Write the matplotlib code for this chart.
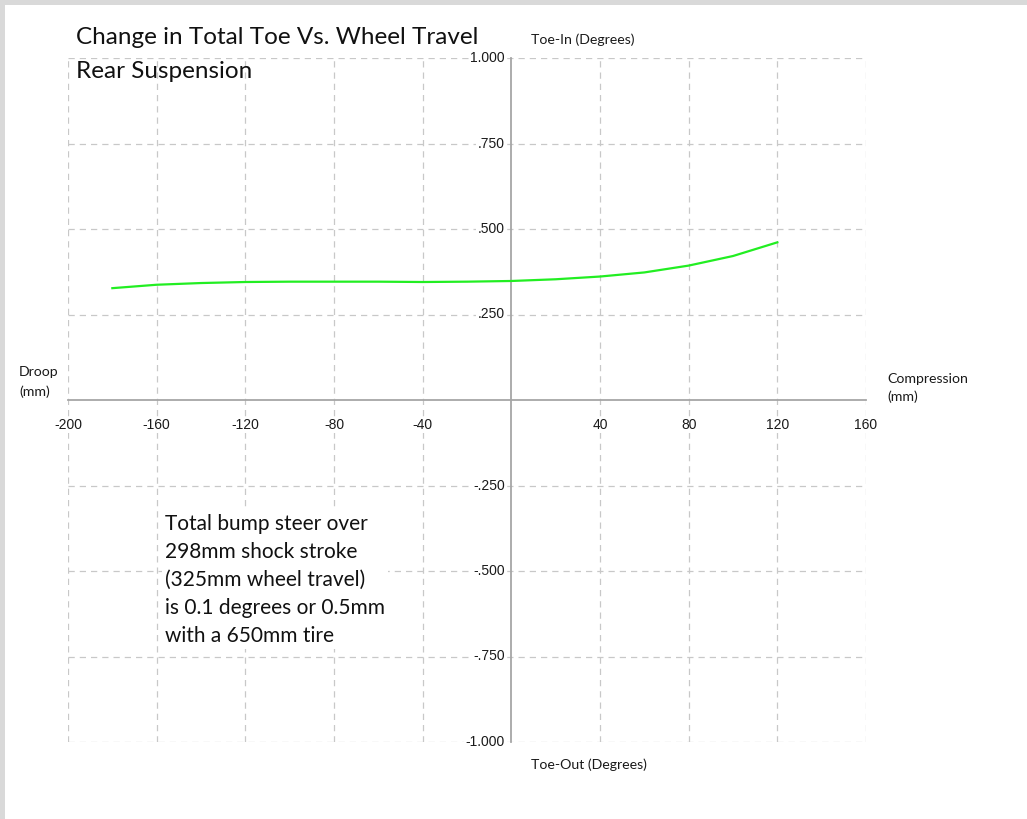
import matplotlib.pyplot as plt
from matplotlib.patches import Rectangle

# wheel travel (mm) and total toe (degrees)
travel = [-180, -160, -140, -120, -100, -80, -60, -40, -20, 0, 20, 40, 60, 80, 100, 120]
toe = [0.327, 0.337, 0.342, 0.345, 0.346, 0.346, 0.346, 0.345, 0.346, 0.348, 0.353, 0.361, 0.373, 0.393, 0.421, 0.461]

x_ticks = [-200, -160, -120, -80, -40, 40, 80, 120, 160]
y_ticks = [1.0, 0.75, 0.5, 0.25, -0.25, -0.5, -0.75, -1.0]
y_labels = ['1.000', '.750', '.500', '.250', '-.250', '-.500', '-.750', '-1.000']

note = ("Total bump steer over\n298mm shock stroke\n(325mm wheel travel)\n"
        "is 0.1 degrees or 0.5mm\nwith a 650mm tire")

fig = plt.figure(figsize=(10.27, 8.19), dpi=100)
ax = fig.add_axes([68 / 1027, 77 / 819, 798 / 1027, 684 / 819])
ax.set_xlim(-200, 160)
ax.set_ylim(-1, 1)
for s in ax.spines.values():
    s.set_visible(False)
ax.set_xticks([])
ax.set_yticks([])

grid_kw = dict(color='#c8c8c8', lw=0.9, ls=(0, (5, 4)), zorder=1)
for x in x_ticks:
    ax.axvline(x, **grid_kw)
for y in y_ticks:
    ax.axhline(y, **grid_kw)

ax.plot([-200, 160], [0, 0], color='#a6a6a6', lw=1.3, zorder=2, clip_on=False)
ax.plot([0, 0], [-1, 1], color='#a6a6a6', lw=1.3, zorder=2, clip_on=False)

tick_font = dict(family='Liberation Sans', fontsize=10, color='#1a1a1a')
for x in x_ticks:
    ax.text(x, -0.073, str(x), ha='center', va='center', zorder=3,
            bbox=dict(fc='white', ec='none', pad=1), **tick_font)
for y, lab in zip(y_ticks, y_labels):
    ax.text(-3, y, lab, ha='right', va='center', zorder=3,
            bbox=dict(fc='white', ec='none', pad=1), **tick_font)

ax.plot(travel, toe, color='#22ee22', lw=1.6, zorder=4)

lab_font = dict(family='Lato', fontsize=10.2, color='#1a1a1a')
fig.text(19 / 1027, 1 - 382 / 819, 'Droop\n(mm)', ha='left', va='center', linespacing=1.65, **lab_font)
fig.text(887 / 1027, 1 - 388 / 819, 'Compression\n(mm)', ha='left', va='center', linespacing=1.5, **lab_font)
fig.text(531 / 1027, 1 - 40 / 819, 'Toe-In (Degrees)', ha='left', va='center', **lab_font)
fig.text(531 / 1027, 1 - 765 / 819, 'Toe-Out (Degrees)', ha='left', va='center', **lab_font)

title_font = dict(family='Lato', fontsize=17.5, color='#111111')
fig.text(76 / 1027, 1 - 38 / 819, 'Change in Total Toe Vs. Wheel Travel', ha='left', va='center', **title_font)
fig.text(76 / 1027, 1 - 71 / 819, 'Rear Suspension', ha='left', va='center', **title_font)

ax.text(165 / 1027, 1 - 580 / 819, note, transform=fig.transFigure, ha='left', va='center',
        family='Lato', fontsize=15, color='#111111', linespacing=1.5, zorder=3,
        bbox=dict(fc='white', ec='none', pad=2))

# light grey frame along the top and left edge
fig.patches.append(Rectangle((0, 1 - 5 / 819), 1, 5 / 819, transform=fig.transFigure,
                             fc='#d9d9d9', ec='none'))
fig.patches.append(Rectangle((0, 0), 5 / 1027, 1, transform=fig.transFigure,
                             fc='#d9d9d9', ec='none'))

fig.savefig('out.png', dpi=100)
